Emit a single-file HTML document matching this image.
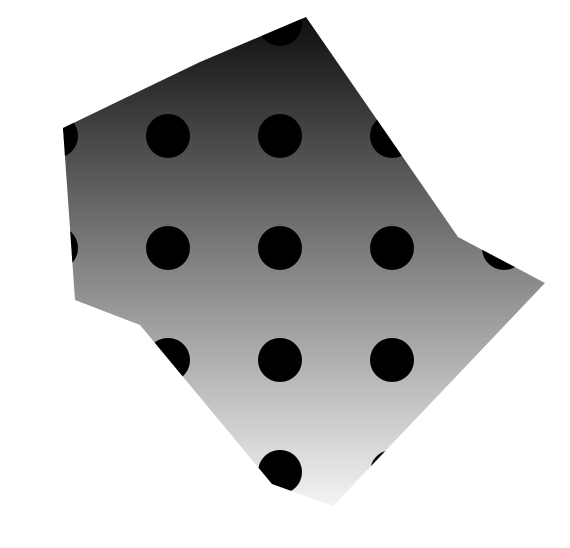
<!DOCTYPE html>
<html>
<head>
<meta charset="utf-8">
<style>
  html,body{margin:0;padding:0;background:#fff;}
  svg{display:block;}
</style>
</head>
<body>
<svg width="570" height="548" viewBox="0 0 570 548">
  <defs>
    <linearGradient id="grad" x1="0" y1="17" x2="0" y2="506" gradientUnits="userSpaceOnUse">
      <stop offset="0" stop-color="#0e0e0e"/>
      <stop offset="1" stop-color="#f4f4f4"/>
    </linearGradient>
    <pattern id="dots" x="0" y="0" width="112" height="112" patternUnits="userSpaceOnUse" patternTransform="translate(56,24)">
      <circle cx="0" cy="0" r="22" fill="#000"/>
      <circle cx="112" cy="0" r="22" fill="#000"/>
      <circle cx="0" cy="112" r="22" fill="#000"/>
      <circle cx="112" cy="112" r="22" fill="#000"/>
    </pattern>
  </defs>
  <g id="shape"></g>
</svg>
<script>
const polyX = [306, 458, 545, 333, 272, 140, 75, 63, 200];
const polyY = [17, 237, 283, 506, 484, 325, 300, 128, 62];
const g = document.getElementById('shape');
const pts = polyX.map((x,i)=>x+','+polyY[i]).join(' ');
const ns = 'http://www.w3.org/2000/svg';
const p1 = document.createElementNS(ns,'polygon');
p1.setAttribute('points', pts);
p1.setAttribute('fill', 'url(#grad)');


g.appendChild(p1);
const p2 = document.createElementNS(ns,'polygon');
p2.setAttribute('points', pts);
p2.setAttribute('fill', 'url(#dots)');


g.appendChild(p2);
</script>
</body>
</html>
